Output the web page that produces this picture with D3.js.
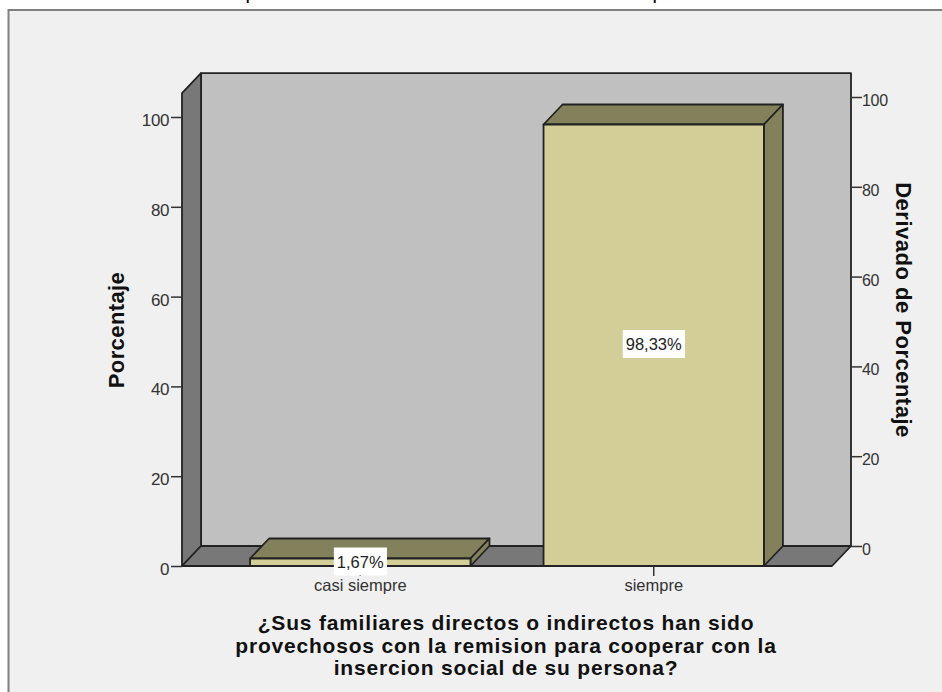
<!DOCTYPE html>
<html>
<head>
<meta charset="utf-8">
<script src="https://d3js.org/d3.v7.min.js"></script>
<style>
  html, body { margin: 0; padding: 0; background: #fff; }
  svg { display: block; }
  text { font-family: "Liberation Sans", Arial, sans-serif; }
</style>
</head>
<body>
<div id="chart"></div>
<script>
// data
var categories = ["casi siempre", "siempre"];
var percentages = [1.67, 98.33];
var barLabels = ["1,67%", "98,33%"];
var yTicks = [0, 20, 40, 60, 80, 100];
var xAxisTitle = ["¿Sus familiares directos o indirectos han sido",
                  "provechosos con la remision para cooperar con la",
                  "insercion social de su persona?"];
var clippedTitle = ["p", "p"];

var width = 942, height = 692;

var svg = d3.select("#chart")
  .append("svg")
    .attr("width", width)
    .attr("height", height);

// front plane of the 3d box, back wall is the same thing shifted by depth
var front = {left: 182, right: 832, bottom: 566};
var depth = {x: 19, y: 20};
var edge = "#222";

var x = d3.scaleBand()
  .domain(categories)
  .range([front.left, front.right])
  .paddingInner(0.249)
  .paddingOuter(0.232);

var y = d3.scaleLinear()
  .domain([0, 100])
  .range([front.bottom, front.bottom - 449]);

// right axis belongs to the back wall
var yBack = d3.scaleLinear()
  .domain([0, 100])
  .range([front.bottom - depth.y, front.bottom - depth.y - 449]);

var boxTop = y(105.3);

// chart frame, cut by the window on the right and bottom
svg.append("rect")
  .attr("x", 8.5).attr("y", 10)
  .attr("width", 960).attr("height", 720)
  .attr("fill", "#f0f0f0")
  .attr("stroke", "#7f7f7f")
  .attr("stroke-width", 2);

// what is left of the title above the frame
svg.selectAll(".cut-title")
  .data(clippedTitle)
  .enter().append("text")
    .attr("class", "cut-title")
    .attr("x", function(d, i) { return i == 0 ? 251 : 658; })
    .attr("y", -1)
    .attr("text-anchor", "middle")
    .style("font-size", "20px")
    .text(function(d) { return d; });

function poly(points, fill) {
  return svg.append("polygon")
    .attr("points", points.map(function(p) { return p.join(","); }).join(" "))
    .attr("fill", fill)
    .attr("stroke", edge)
    .attr("stroke-width", 1.8)
    .attr("stroke-linejoin", "round");
}

// back wall
poly([[front.left + depth.x, boxTop - depth.y], [front.right + depth.x, boxTop - depth.y],
      [front.right + depth.x, front.bottom - depth.y], [front.left + depth.x, front.bottom - depth.y]], "#c0c0c0");
// left wall
poly([[front.left, boxTop], [front.left + depth.x, boxTop - depth.y],
      [front.left + depth.x, front.bottom - depth.y], [front.left, front.bottom]], "#787878");
// floor
poly([[front.left, front.bottom], [front.left + depth.x, front.bottom - depth.y],
      [front.right + depth.x, front.bottom - depth.y], [front.right, front.bottom]], "#787878");

// bars
categories.forEach(function(c, i) {
  var x0 = x(c), x1 = x(c) + x.bandwidth(), y0 = y(percentages[i]), y1 = y(0);
  poly([[x0, y0], [x0 + depth.x, y0 - depth.y], [x1 + depth.x, y0 - depth.y], [x1, y0]], "#83815b");
  poly([[x1, y0], [x1 + depth.x, y0 - depth.y], [x1 + depth.x, y1 - depth.y], [x1, y1]], "#83815b");
  poly([[x0, y0], [x1, y0], [x1, y1], [x0, y1]], "#d3ce97");
});

// left axis
var leftAxis = svg.append("g")
  .attr("transform", "translate(" + front.left + ",0)")
  .call(d3.axisLeft(y).tickValues(yTicks).tickSize(11).tickPadding(2).tickFormat(d3.format("d")));
leftAxis.select(".domain").remove();

// right axis
var rightAxis = svg.append("g")
  .attr("transform", "translate(" + (front.right + depth.x) + ",0)")
  .call(d3.axisRight(yBack).tickValues(yTicks).tickSize(11).tickPadding(0).tickFormat(d3.format("d")));
rightAxis.select(".domain").remove();

// bottom axis
var bottomAxis = svg.append("g")
  .attr("transform", "translate(0," + front.bottom + ")")
  .call(d3.axisBottom(x).tickSize(10).tickPadding(3));
bottomAxis.select(".domain").remove();

svg.selectAll(".tick line").attr("stroke", "#333").attr("stroke-width", 1.5);
svg.selectAll(".tick text")
  .attr("fill", "#333")
  .style("font-family", "'Liberation Sans', Arial, sans-serif");
leftAxis.selectAll(".tick text").attr("dy", "0.5em")
  .style("font-size", "17px").style("letter-spacing", "-0.4px");
rightAxis.selectAll(".tick text").attr("dy", "0.53em")
  .style("font-size", "16px").style("letter-spacing", "-0.3px");
bottomAxis.selectAll(".tick text").style("font-size", "16.5px");

// value labels
var labelY = [561.5, 344];
categories.forEach(function(c, i) {
  var cx = x(c) + x.bandwidth() / 2;
  var g = svg.append("g");
  var t = g.append("text")
    .attr("x", cx).attr("y", labelY[i] + 6)
    .attr("text-anchor", "middle")
    .attr("fill", "#222")
    .style("font-size", "16.5px")
    .text(barLabels[i]);
  var b = t.node().getBBox();
  g.insert("rect", "text")
    .attr("x", b.x - 3).attr("y", labelY[i] - 14)
    .attr("width", b.width + 6).attr("height", 28)
    .attr("fill", "#fff");
});

// axis titles
svg.append("text")
  .attr("transform", "translate(124,330) rotate(-90)")
  .attr("text-anchor", "middle")
  .attr("fill", "#111")
  .style("font-size", "22px")
  .style("font-weight", "bold")
  .style("letter-spacing", "0.4px")
  .text("Porcentaje");

svg.append("text")
  .attr("transform", "translate(896,310) rotate(90)")
  .attr("text-anchor", "middle")
  .attr("fill", "#111")
  .style("font-size", "22px")
  .style("font-weight", "bold")
  .style("letter-spacing", "0.5px")
  .text("Derivado de Porcentaje");

svg.selectAll(".x-title")
  .data(xAxisTitle)
  .enter().append("text")
    .attr("class", "x-title")
    .attr("x", 506)
    .attr("y", function(d, i) { return 630 + i * 22.5; })
    .attr("text-anchor", "middle")
    .attr("fill", "#111")
    .style("font-size", "21px")
    .style("font-weight", "bold")
    .style("letter-spacing", "0.8px")
    .text(function(d) { return d; });
</script>
</body>
</html>
